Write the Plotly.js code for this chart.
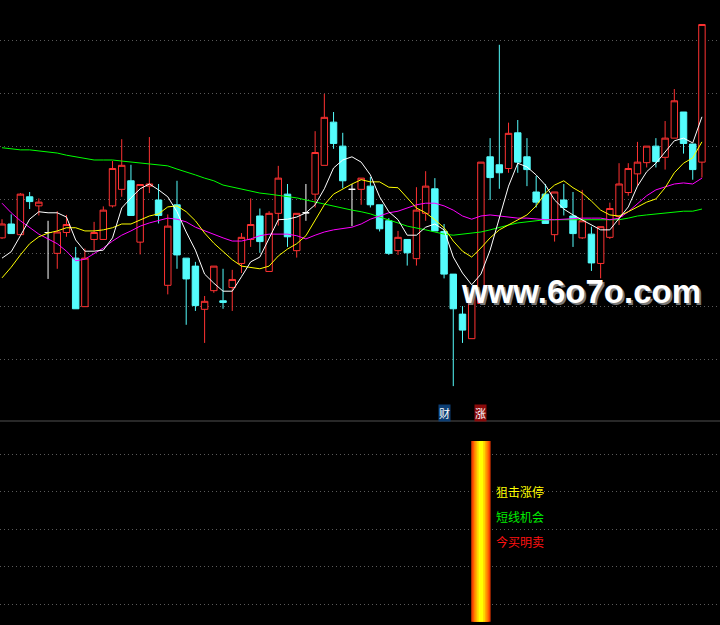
<!DOCTYPE html>
<html><head><meta charset="utf-8">
<script src="https://cdn.plot.ly/plotly-3.0.1.min.js"></script>
<style>html,body{margin:0;padding:0;background:#000;}#chart{width:720px;height:625px;}</style>
</head><body><div id="chart"></div>
<script>
// ---- price data (one entry per trading day) ----
const openP  = [12.29,12.55,12.35,13.06,12.89,12.39,12.00,12.39,11.91,11.00,12.26,12.26,12.89,13.20,13.36,12.21,13.26,13.00,11.40,12.91,11.91,11.76,10.95,11.30,11.11,11.36,11.81,12.26,12.70,11.66,12.75,13.11,12.05,12.76,13.11,13.65,14.46,14.01,13.20,13.20,13.26,12.91,12.61,12.05,12.26,11.90,12.75,13.21,12.41,11.61,10.86,10.40,11.06,13.81,13.66,13.59,14.26,13.81,13.15,13.11,12.35,13.00,12.70,12.29,12.36,11.81,12.30,12.69,13.14,13.49,13.70,14.01,13.80,14.16,14.65,14.05,13.71];
const highP  = [12.64,12.73,13.13,13.15,13.03,12.61,12.79,12.72,12.12,12.09,12.59,12.88,13.73,14.14,13.66,13.29,14.18,13.30,12.73,13.36,11.91,11.84,11.20,11.76,11.71,11.69,12.38,13.03,12.84,12.79,13.64,13.30,12.75,13.30,14.29,14.99,14.65,14.26,13.30,13.41,13.43,12.91,12.66,12.42,12.26,13.24,13.54,13.41,12.55,11.61,11.01,11.22,13.71,14.16,15.91,14.45,14.50,14.16,13.45,13.30,13.15,13.30,13.15,13.19,12.50,12.50,12.95,13.69,13.69,14.09,14.01,14.16,14.48,15.08,14.65,14.05,16.29];
const lowP   = [12.27,12.37,12.35,12.83,12.71,11.52,11.71,12.31,10.96,11.00,12.06,12.26,12.86,13.06,12.71,11.98,13.13,12.56,11.23,11.71,10.66,10.92,10.32,11.26,10.96,10.92,11.63,12.12,12.01,11.66,12.52,12.12,11.92,12.61,12.86,13.65,13.96,13.22,12.51,12.91,12.86,12.41,11.97,11.97,11.77,11.77,12.61,12.42,11.53,9.51,10.32,10.40,11.06,13.00,13.21,13.51,13.51,13.26,12.86,12.56,12.22,12.71,12.12,12.27,11.67,11.53,12.27,12.53,13.08,13.27,13.61,13.61,13.57,14.16,13.87,13.38,13.42];
const closeP = [12.55,12.37,13.11,12.97,12.96,12.39,12.40,12.54,10.96,11.91,12.39,12.81,13.59,13.65,12.71,13.29,13.30,12.71,12.51,11.97,11.52,11.02,11.10,11.76,11.08,11.51,12.30,12.54,12.22,12.75,13.41,12.31,12.75,12.76,13.89,14.55,14.06,13.36,13.20,13.41,12.91,12.46,12.00,12.30,12.01,12.81,13.26,12.42,11.61,10.96,10.56,11.22,13.71,13.42,13.51,14.25,13.71,13.57,12.96,12.56,13.15,12.86,12.37,12.61,11.82,12.50,12.84,13.30,13.59,13.71,14.01,13.72,14.16,14.86,14.06,13.57,16.29];

// ---- moving averages ----
const ma5  = [11.91,12.03,12.33,12.64,12.78,12.76,12.76,12.68,12.25,12.04,12.04,12.06,12.29,12.85,13.04,13.21,13.30,13.19,13.06,12.78,12.40,12.06,11.61,11.44,11.29,11.29,11.56,11.84,11.93,12.29,12.63,12.64,12.68,12.76,12.91,13.21,13.60,13.75,13.81,13.71,13.47,13.06,12.78,12.63,12.34,12.34,12.49,12.55,12.44,11.93,11.63,11.41,11.61,12.06,12.66,13.26,13.69,13.62,13.47,13.28,13.00,12.83,12.72,12.63,12.53,12.44,12.44,12.66,12.87,13.26,13.53,13.69,13.90,14.11,14.16,14.07,14.56];
const ma10 = [11.54,11.74,11.97,12.18,12.31,12.38,12.42,12.48,12.48,12.42,12.42,12.44,12.48,12.55,12.55,12.63,12.70,12.74,12.87,12.89,12.78,12.61,12.38,12.19,12.03,11.88,11.76,11.73,11.71,11.76,11.95,12.08,12.18,12.33,12.63,12.91,13.11,13.21,13.30,13.38,13.34,13.34,13.24,13.23,13.04,12.85,12.76,12.63,12.48,12.23,12.04,11.93,12.10,12.29,12.44,12.53,12.63,12.72,12.89,13.13,13.28,13.36,13.23,13.13,12.98,12.81,12.72,12.70,12.78,12.87,12.96,13.02,13.23,13.51,13.69,13.79,14.09];
const ma20 = [12.94,12.76,12.61,12.48,12.36,12.27,12.18,12.04,11.86,11.89,11.99,12.10,12.23,12.34,12.42,12.51,12.57,12.61,12.66,12.64,12.59,12.49,12.42,12.36,12.29,12.23,12.23,12.27,12.33,12.36,12.36,12.36,12.33,12.27,12.34,12.40,12.44,12.46,12.49,12.55,12.64,12.70,12.76,12.79,12.85,12.91,12.94,12.94,12.89,12.81,12.70,12.64,12.70,12.72,12.70,12.68,12.66,12.66,12.64,12.63,12.63,12.64,12.66,12.66,12.66,12.66,12.63,12.66,12.78,12.93,13.08,13.19,13.24,13.30,13.32,13.30,13.41];
const ma60 = [13.98,13.96,13.94,13.94,13.92,13.90,13.88,13.84,13.81,13.77,13.75,13.75,13.75,13.73,13.71,13.69,13.68,13.66,13.64,13.58,13.53,13.47,13.41,13.36,13.28,13.24,13.21,13.17,13.13,13.11,13.09,13.06,13.04,13.00,12.96,12.93,12.89,12.85,12.81,12.78,12.74,12.68,12.63,12.57,12.51,12.48,12.44,12.40,12.36,12.34,12.36,12.38,12.40,12.44,12.49,12.53,12.57,12.59,12.61,12.63,12.63,12.63,12.63,12.63,12.63,12.63,12.63,12.63,12.66,12.70,12.72,12.74,12.76,12.78,12.79,12.79,12.83];

// ---- price-panel grid levels ----
const priceGrid = [10,11,12,13,14,15,16];

// ---- lower indicator panel ----
const signalDay = 52;
const signalBottom = -0.47;
const signalTop = 4.35;
const indicatorGrid = [0,1,2,3,4];
const signalTexts = ['狙击涨停','短线机会','今买明卖'];
const signalLevel = 3;
const tagTexts = ['财','涨'];
const tagDays = [48,52];
const watermark = 'www.6o7o.com';

// ---------------------------------------------------
const days = closeP.map((_, i) => i);
const normalIdx = days.filter(i => openP[i] !== closeP[i]);
const dojiIdx = days.filter(i => openP[i] === closeP[i]);
const pick = (arr, ids) => ids.map(i => arr[i]);

const RED = '#FF3232', CYAN = '#54FCFC';

const traces = [];
traces.push({
  type:'candlestick', xaxis:'x', yaxis:'y',
  x: normalIdx, open: pick(openP,normalIdx), high: pick(highP,normalIdx),
  low: pick(lowP,normalIdx), close: pick(closeP,normalIdx),
  line:{width:1}, whiskerwidth:0,
  increasing:{line:{color:RED,width:1}, fillcolor:'#000000'},
  decreasing:{line:{color:CYAN,width:1}, fillcolor:CYAN},
  hoverinfo:'skip'
});
traces.push({
  type:'candlestick', xaxis:'x', yaxis:'y',
  x: dojiIdx, open: pick(openP,dojiIdx), high: pick(highP,dojiIdx),
  low: pick(lowP,dojiIdx), close: pick(closeP,dojiIdx),
  line:{width:1}, whiskerwidth:0,
  increasing:{line:{color:'#FFFFFF',width:1}, fillcolor:'#FFFFFF'},
  decreasing:{line:{color:'#FFFFFF',width:1}, fillcolor:'#FFFFFF'},
  hoverinfo:'skip'
});
const maDefs = [[ma60,'#00FF00'],[ma20,'#FF00FF'],[ma10,'#FFFF00'],[ma5,'#FFFFFF']];
maDefs.forEach(([arr,col]) => traces.push({
  type:'scatter', mode:'lines', xaxis:'x', yaxis:'y', x: days, y: arr,
  line:{color:col,width:1}, hoverinfo:'skip'
}));

// gradient stick in indicator panel (layered sticks)
const stickLayers = [[2.1,'#E83800'],[1.8,'#FF5A00'],[1.5,'#FF8200'],[1.2,'#FFAA00'],[0.9,'#FFD200'],[0.5,'#FFFF00']];
stickLayers.forEach(([w,col]) => traces.push({
  type:'bar', xaxis:'x', yaxis:'y2', x:[signalDay], y:[signalTop - signalBottom],
  base:[signalBottom], width:w, marker:{color:col, line:{width:0}}, hoverinfo:'skip'
}));

const gridStyle = {showgrid:true, gridcolor:'#5a5a5a', griddash:'1px,3px', gridwidth:1,
  zeroline:false, showticklabels:false, ticks:'', showline:false};

const signalColors = ['#FFFF00','#00EE00','#FF1010'];
const annotations = [];
signalTexts.forEach((t,k) => annotations.push({
  xref:'x', yref:'y2', x:signalDay, y:signalLevel, xanchor:'left', yanchor:'middle',
  xshift:13, yshift:-25*k, text:t, showarrow:false,
  font:{family:'Noto Sans CJK SC', size:12, color:signalColors[k]}
}));
const tagBg = ['#0C3E74','#8A0A0A'];
tagTexts.forEach((t,k) => annotations.push({
  xref:'x', yref:'paper', x:tagDays[k], y:0.3392, xanchor:'center', yanchor:'middle',
  text:t, showarrow:false, bgcolor:tagBg[k], borderpad:0,
  font:{family:'Noto Sans CJK SC', size:11, color:'#FFFFFF'}
}));
annotations.push({
  xref:'paper', yref:'paper', x:0.807, y:0.533, xanchor:'center', yanchor:'middle',
  text:watermark, showarrow:false,
  font:{family:'Liberation Sans', size:33, weight:'bold', color:'#FFFFFF', shadow:'2px 2px 0px #7a7a7a'}
});

const layout = {
  width:720, height:625, margin:{l:0,r:0,t:0,b:0,pad:0},
  paper_bgcolor:'#000000', plot_bgcolor:'#000000', showlegend:false,
  barmode:'overlay', boxgap:0, boxgroupgap:0.3,
  xaxis:{range:[-0.217,77.96], showgrid:false, zeroline:false, showticklabels:false,
    ticks:'', showline:false, rangeslider:{visible:false}, fixedrange:true},
  yaxis:Object.assign({domain:[0.3264,1], range:[8.856,16.75], tickvals:priceGrid, fixedrange:true}, gridStyle),
  yaxis2:Object.assign({domain:[0,0.3264], range:[-0.56,4.88], tickvals:indicatorGrid, anchor:'x', fixedrange:true}, gridStyle),
  shapes:[{type:'line', xref:'paper', yref:'paper', x0:0, x1:1, y0:0.3264, y1:0.3264,
    line:{color:'#505050', width:1}}],
  annotations: annotations
};

Plotly.newPlot('chart', traces, layout, {displayModeBar:false, staticPlot:true});
</script></body></html>
